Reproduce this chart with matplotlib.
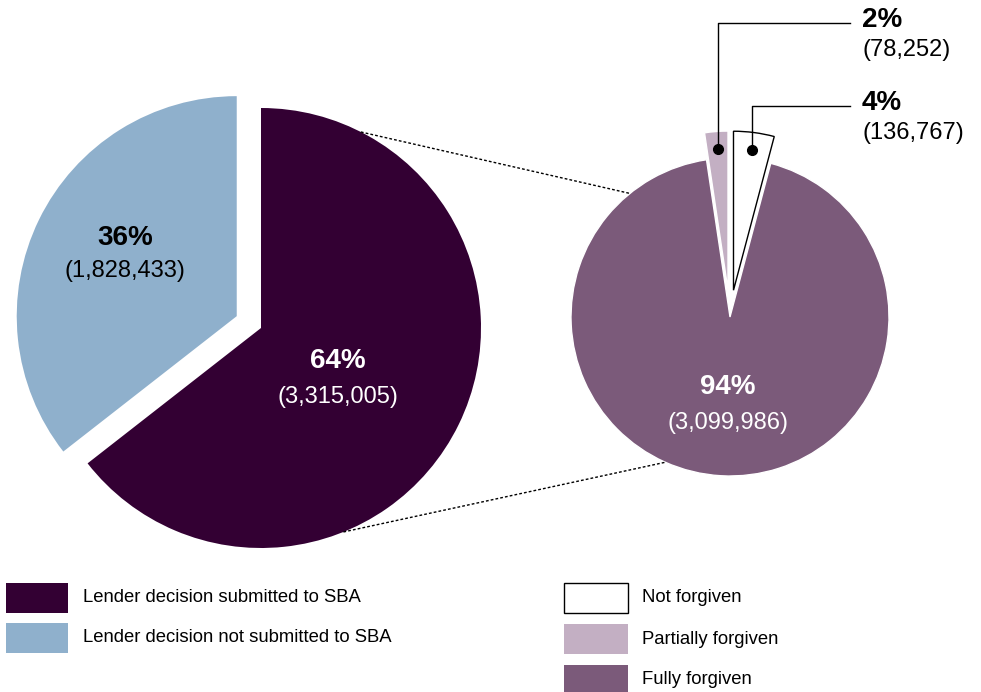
import numpy as np
import matplotlib
matplotlib.use("Agg")
import matplotlib.pyplot as plt
from matplotlib.patches import Rectangle

plt.rcParams['font.family'] = ['Liberation Sans', 'DejaVu Sans']

# PPP loans: lender decision status, then forgiveness outcome of submitted decisions
decision_labels = ['Lender decision submitted to SBA', 'Lender decision not submitted to SBA']
decision_counts = [3315005, 1828433]
decision_colors = ['#330033', '#8FB0CC']

forgive_labels = ['Partially forgiven', 'Not forgiven', 'Fully forgiven']
forgive_counts = [78252, 136767, 3099986]
forgive_colors = ['#C3AFC3', '#FFFFFF', '#7B5A7A']

legend_right_order = ['Not forgiven', 'Partially forgiven', 'Fully forgiven']

W, H = 981, 692
fig = plt.figure(figsize=(W / 100, H / 100), dpi=100)
ax = fig.add_axes([0, 0, 1, 1])

# left pie (pixel-like data units, y measured upward)
lc, lr = (261, 364), 220
wl, _ = ax.pie(decision_counts, colors=decision_colors, startangle=90,
               counterclock=False, center=lc, radius=lr, explode=[0, 27],
               wedgeprops=dict(linewidth=0))

# right pie: small slices pulled out at the top
rc, rr = (730, 375), 159
tot_r = sum(forgive_counts)
start = 90 + 360 * forgive_counts[0] / tot_r
wr, _ = ax.pie(forgive_counts, colors=forgive_colors, startangle=start,
               counterclock=False, center=rc, radius=rr, explode=[27, 27, 0],
               wedgeprops=dict(linewidth=1, edgecolor='white'))
wr[1].set_edgecolor('black')
wr[1].set_linewidth(1)
wr[1].set_zorder(3)

ax.set_xlim(0, W)
ax.set_ylim(0, H)
ax.set_aspect('auto')
ax.axis('off')

# dotted connectors between the two pies
def on_circle(c, r, deg):
    t = np.deg2rad(deg)
    return c[0] + r * np.cos(t), c[1] + r * np.sin(t)

for a1, a2 in [(63, 129), (-68, -114)]:
    p1 = on_circle(lc, lr, a1)
    p2 = on_circle(rc, rr, a2)
    ax.plot([p1[0], p2[0]], [p1[1], p2[1]], ls=(0, (2, 1.5)), color='black', lw=1, zorder=1)

def fmt(v):
    return '({:,})'.format(v)

tot_l = sum(decision_counts)
pct_l = [round(100 * v / tot_l) for v in decision_counts]
pct_r = [round(100 * v / tot_r) for v in forgive_counts]

# labels inside the big slices
ax.text(338, 692 - 361, f'{pct_l[0]}%', color='white', fontsize=20, weight='bold', ha='center', va='center')
ax.text(338, 692 - 397, fmt(decision_counts[0]), color='white', fontsize=17, ha='center', va='center')
ax.text(125, 692 - 238, f'{pct_l[1]}%', color='black', fontsize=20, weight='bold', ha='center', va='center')
ax.text(125, 692 - 271, fmt(decision_counts[1]), color='black', fontsize=17, ha='center', va='center')
ax.text(728, 692 - 387, f'{pct_r[2]}%', color='white', fontsize=20, weight='bold', ha='center', va='center')
ax.text(728, 692 - 423, fmt(forgive_counts[2]), color='white', fontsize=17, ha='center', va='center')

# leader lines for the two small slices
for i, ytop in [(0, 692 - 23), (1, 692 - 106)]:
    w = wr[i]
    mid = np.deg2rad((w.theta1 + w.theta2) / 2)
    dx = w.center[0] + 0.89 * w.r * np.cos(mid)
    dy = w.center[1] + 0.89 * w.r * np.sin(mid)
    ax.plot([dx, dx, 850], [dy, ytop, ytop], color='black', lw=1, zorder=4)
    ax.plot(dx, dy, 'o', color='black', ms=7, zorder=5)
    ax.text(862, ytop + 3, f'{pct_r[i]}%', fontsize=20, weight='bold', ha='left', va='center')
    ax.text(862, ytop - 27, fmt(forgive_counts[i]), fontsize=17, ha='left', va='center')

# legends drawn as boxes with text
for k, (lab, col) in enumerate(zip(decision_labels, decision_colors)):
    y0 = 692 - 613 - 40 * k
    ax.add_patch(Rectangle((6, y0), 62, 30, facecolor=col, edgecolor='none'))
    ax.text(83, y0 + 15, lab, fontsize=13.3, ha='left', va='center')

for k, lab in enumerate(legend_right_order):
    col = forgive_colors[forgive_labels.index(lab)]
    y0 = 692 - 613 - 41 * k
    ec = 'black' if col.upper() == '#FFFFFF' else 'none'
    ax.add_patch(Rectangle((564, y0), 64, 30, facecolor=col, edgecolor=ec, lw=1))
    ax.text(642, y0 + 15, lab, fontsize=13.3, ha='left', va='center')

fig.savefig('out.png', dpi=100)
